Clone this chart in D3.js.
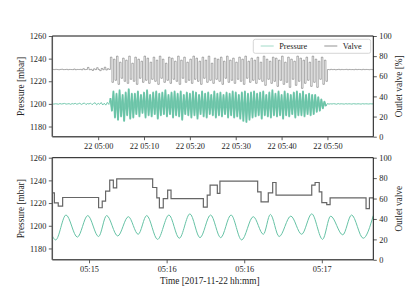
<!DOCTYPE html>
<html>
<head>
<meta charset="utf-8">
<script src="https://cdn.jsdelivr.net/npm/d3@7"></script>
<style>
  body { margin: 0; background: #fff; }
  svg { display: block; }
  text { font-family: "Liberation Serif", "Times New Roman", serif; fill: #222; }
</style>
</head>
<body>
<svg id="chart" width="415" height="297"></svg>
<script>
// ---- data ----
const day = "2017-11-22";
const stepSec = 20;

// overview: three sampled runs (20 s step)
const preStart = "04:50:00";
const runStart = "05:02:40";
const postStart = "05:50:00";

const valvePre = [
  66.8, 66.6, 66.9, 66.7, 66.5, 66.8, 67.0, 66.6, 66.7, 66.9,
  66.5, 66.8, 66.7, 66.6, 67.2, 66.5, 66.8, 66.7, 66.9, 66.4,
  67.5, 66.6, 66.8, 68.8, 66.5, 66.9, 65.8, 67.4, 66.6, 68.5,
  66.7, 65.6, 67.8, 66.5, 69.0, 66.2, 67.5, 66.8
];
const valveRun = [
  79, 54, 77, 56, 80, 52, 74, 58, 78, 55, 76, 53, 80, 57, 73, 55, 79, 52, 77, 58,
  75, 54, 80, 56, 78, 53, 74, 57, 79, 55, 76, 52, 80, 58, 77, 54, 73, 56, 79, 53,
  78, 57, 75, 55, 80, 52, 76, 58, 79, 54, 74, 56, 77, 53, 80, 57, 78, 55, 75, 52,
  79, 58, 76, 54, 80, 56, 73, 53, 78, 57, 77, 55, 79, 52, 75, 58, 80, 54, 76, 56,
  78, 53, 74, 57, 79, 55, 77, 52, 80, 58, 75, 54, 78, 56, 76, 53, 79, 57, 74, 55,
  80, 51, 77, 57, 75, 53, 79, 55, 78, 50, 76, 56, 80, 52, 74, 54, 79, 49, 77, 57,
  75, 51, 80, 55, 78, 48, 76, 53, 79, 56, 74, 50, 80, 54, 77, 49, 75, 57, 79, 52,
  76, 55
];
const valvePost = [
  66.7, 66.5, 66.9, 66.6, 66.8, 66.4, 66.7, 66.9, 66.5, 66.8,
  66.6, 66.7, 66.9, 66.5, 66.8, 66.6, 66.7, 66.5, 66.9, 66.6,
  66.8, 66.7, 66.5, 66.9, 66.6, 66.8, 66.7, 66.5, 66.8, 66.6, 67.2
];

const pressurePre = [
  1200.2, 1199.8, 1200.1, 1200.0, 1199.7, 1200.3, 1199.9, 1200.1, 1200.4, 1199.8,
  1200.0, 1200.2, 1199.6, 1200.3, 1199.9, 1200.5, 1199.7, 1200.1, 1200.6, 1199.5,
  1200.2, 1200.8, 1199.4, 1200.3, 1199.9, 1200.7, 1199.3, 1200.4, 1201.0, 1199.2,
  1200.5, 1199.6, 1201.2, 1199.0, 1200.6, 1198.9, 1201.3, 1199.5
];
const pressureRun = [
  1205, 1194, 1211, 1188, 1209, 1186, 1212, 1189, 1208, 1185, 1210, 1190, 1213, 1187, 1209, 1188,
  1209, 1191, 1211, 1189, 1208, 1192, 1210, 1188, 1212, 1190, 1208, 1189, 1210, 1191, 1211, 1187, 1209, 1190, 1210, 1191,
  1212, 1189, 1208, 1191, 1210, 1188, 1211, 1190, 1209, 1189, 1211, 1186, 1208, 1191, 1210, 1190, 1209, 1188, 1211, 1190,
  1210, 1187, 1208, 1191, 1211, 1189, 1209, 1188, 1210, 1191, 1208, 1190, 1211, 1188, 1209, 1190, 1210, 1189, 1208, 1191,
  1210, 1188, 1209, 1190, 1211, 1188, 1210, 1189, 1208, 1187, 1210, 1185, 1211, 1184, 1209, 1186, 1210, 1188, 1211, 1189,
  1209, 1190, 1210, 1187, 1211, 1190, 1208, 1189, 1210, 1188, 1212, 1190, 1209, 1189, 1211, 1190, 1208, 1187, 1211, 1190,
  1209, 1189, 1208, 1191, 1210, 1188, 1211, 1190, 1209, 1190, 1211, 1189, 1208, 1191, 1209, 1190,
  1208, 1191, 1208, 1193, 1206, 1194, 1204, 1196, 1202, 1198
];
const pressurePost = [
  1200.3, 1199.8, 1200.1, 1199.9, 1200.2, 1200.0, 1199.7, 1200.3, 1199.9, 1200.1,
  1200.0, 1199.8, 1200.2, 1199.9, 1200.1, 1200.0, 1199.8, 1200.2, 1200.0, 1199.9,
  1200.1, 1200.0, 1199.8, 1200.2, 1199.9, 1200.1, 1200.0, 1199.9, 1200.1, 1200.0, 1200.0
];

// zoom window, seconds after 05:15:00
const zoomPressureT = [15.8, 17.1, 21.1, 25.5, 29.5, 33.7, 36.8, 41.1, 45.2, 49.0, 52.3, 56.5, 60.9, 64.9, 69.0, 72.9,
  77.0, 80.9, 84.9, 89.0, 93.5, 97.4, 100.1, 103.5, 108.0, 112.2, 116.1, 120.3, 123.4, 128.1, 131.5, 136.0, 139.9];
const zoomPressure = [1191, 1187.5, 1209.5, 1190, 1209, 1190.5, 1209, 1191, 1208, 1192.5, 1209, 1188, 1209.5, 1189, 1210.5, 1189.5,
  1209.5, 1189.5, 1209.5, 1187.5, 1208, 1192.5, 1210, 1190.5, 1208.5, 1192.5, 1210.5, 1188, 1208.5, 1192, 1209.5, 1189, 1209];
const zoomValveT = [15.8, 16.6, 18.1, 19.8, 33.7, 35.1, 36.4, 38.0, 39.4, 40.7, 54.6, 56.2, 57.2, 58.7, 60.4, 61.7,
  74.2, 75.7, 76.8, 79.6, 80.6, 95.2, 96.5, 99.3, 101.0, 102.3, 116.1, 117.4, 119.0, 120.0, 121.9, 123.2, 137.1, 138.4, 139.9];
const zoomValve = [65.6, 55.7, 52.5, 61, 51, 57.4, 67.2, 78, 70.5, 79.3, 70.8, 60.7, 50.8, 60, 68.2, 60,
  51.5, 63.3, 73.1, 65, 77, 66.6, 56.7, 65.6, 75.7, 63.3, 73.1, 75.7, 66.6, 56, 54, 60.7, 50.2, 60.7, 60.7];

const overviewDomain = ["04:50:00", "06:00:00"];
const overviewTicks = ["05:00:00", "05:10:00", "05:20:00", "05:30:00", "05:40:00", "05:50:00"];
const zoomDomain = [15.8, 139.9];
const zoomTicks = [30, 60, 90, 120];
const pressureTicks = [1180, 1200, 1220, 1240, 1260];
const valveTicks = [0, 20, 40, 60, 80, 100];

// ---- helpers ----
const parse = d3.timeParse("%Y-%m-%d %H:%M:%S");
const at = s => parse(`${day} ${s}`);
const zoomBase = at("05:15:00");
const zoomAt = sec => new Date(zoomBase.getTime() + sec * 1000);

function run(start, values) {
  const t0 = at(start).getTime();
  return values.map((v, i) => ({ t: new Date(t0 + i * stepSec * 1000), v }));
}

const pressureActive = run(runStart, pressureRun);
const overviewPressure = run(preStart, pressurePre)
  .concat(pressureActive, run(postStart, pressurePost));
const overviewValve = run(preStart, valvePre)
  .concat(run(runStart, valveRun), run(postStart, valvePost));
const zoomP = zoomPressureT.map((s, i) => ({ t: zoomAt(s), v: zoomPressure[i] }));
const zoomV = zoomValveT.map((s, i) => ({ t: zoomAt(s), v: zoomValve[i] }));

// ---- layout ----
const svg = d3.select("#chart");
const x0 = 52.3, x1 = 373.3;
const green = "#66c2a5";
const tickFont = 8.3, labelFont = 9.3;

function styleAxis(g) {
  g.attr("font-family", null).attr("font-size", null);
  g.select(".domain").remove();
  g.selectAll(".tick line").attr("stroke", "#333").attr("stroke-width", 0.8);
  g.selectAll(".tick text").attr("font-size", tickFont).attr("fill", "#222");
}

function panel(id, top, bottom, xScale, xTicks, xFormat, pData, vData, pCurve, vCurve, opts) {
  const yP = d3.scaleLinear().domain(opts.pDomain).range([bottom, top]);
  const yV = d3.scaleLinear().domain([0, 100]).range([bottom, top]);
  const g = svg.append("g");

  g.append("clipPath").attr("id", id)
    .append("rect").attr("x", x0).attr("y", top).attr("width", x1 - x0).attr("height", bottom - top);

  const plot = g.append("g").attr("clip-path", `url(#${id})`);
  const pLine = d3.line().x(d => xScale(d.t)).y(d => yP(d.v)).curve(pCurve);

  plot.append("path")
    .datum(pData)
    .attr("fill", "none")
    .attr("stroke", green)
    .attr("stroke-width", opts.pWidth)
    .attr("stroke-opacity", opts.pOpacity)
    .attr("d", pLine);

  // the dense oscillating stretch is drawn heavier so it reads as a band
  if (opts.band) {
    plot.append("path")
      .datum(opts.band)
      .attr("fill", "none")
      .attr("stroke", green)
      .attr("stroke-width", 1.9)
      .attr("stroke-opacity", 0.85)
      .attr("stroke-linejoin", "round")
      .attr("d", pLine);
  }

  plot.append("path")
    .datum(vData)
    .attr("fill", "none")
    .attr("stroke", opts.vColor)
    .attr("stroke-width", opts.vWidth)
    .attr("stroke-opacity", opts.vOpacity)
    .attr("d", d3.line().x(d => xScale(d.t)).y(d => yV(d.v)).curve(vCurve));

  // axes
  g.append("g").attr("transform", `translate(${x0},0)`)
    .call(d3.axisLeft(yP).tickValues(pressureTicks).tickFormat(d3.format("d")).tickSize(3.5).tickPadding(2.5))
    .call(styleAxis);
  g.append("g").attr("transform", `translate(${x1},0)`)
    .call(d3.axisRight(yV).tickValues(valveTicks).tickFormat(d3.format("d")).tickSize(3.5).tickPadding(2.5))
    .call(styleAxis);
  g.append("g").attr("transform", `translate(0,${bottom})`)
    .call(d3.axisBottom(xScale).tickValues(xTicks).tickFormat(xFormat).tickSize(3.5).tickPadding(2.5))
    .call(styleAxis);

  // spines
  g.append("line").attr("x1", x0).attr("x2", x0).attr("y1", top).attr("y2", bottom)
    .attr("stroke", "#555").attr("stroke-width", 1.5);
  g.append("line").attr("x1", x0).attr("x2", x1).attr("y1", bottom).attr("y2", bottom)
    .attr("stroke", "#555").attr("stroke-width", 1.5);
  g.append("line").attr("x1", x0).attr("x2", x1).attr("y1", top).attr("y2", top)
    .attr("stroke", "#111").attr("stroke-width", 1);
  g.append("line").attr("x1", x1).attr("x2", x1).attr("y1", top).attr("y2", bottom)
    .attr("stroke", "#111").attr("stroke-width", 1);

  const cy = (top + bottom) / 2;
  g.append("text")
    .attr("transform", `translate(21,${cy}) rotate(-90)`)
    .attr("text-anchor", "middle").attr("dy", "0.35em")
    .attr("font-size", labelFont)
    .text("Pressure [mbar]");
  g.append("text")
    .attr("transform", `translate(399,${cy}) rotate(-90)`)
    .attr("text-anchor", "middle").attr("dy", "0.35em")
    .attr("font-size", labelFont)
    .text(opts.valveLabel);
  return g;
}

const xTop = d3.scaleTime().domain(overviewDomain.map(at)).range([x0, x1]);
const xBottom = d3.scaleTime().domain(zoomDomain.map(zoomAt)).range([x0, x1]);

const topPanel = panel("clipTop", 36, 136.7, xTop, overviewTicks.map(at), d3.timeFormat("%d %H:%M"),
  overviewPressure, overviewValve, d3.curveLinear, d3.curveStepAfter,
  { pDomain: [1171, 1260], pWidth: 1, pOpacity: 0.9, band: pressureActive,
    vColor: "#555", vWidth: 0.6, vOpacity: 0.8, valveLabel: "Outlet valve [%]" });

panel("clipBottom", 157.7, 259.8, xBottom, zoomTicks.map(zoomAt), d3.timeFormat("%H:%M"),
  zoomP, zoomV, d3.curveMonotoneX, d3.curveStepAfter,
  { pDomain: [1170, 1260], pWidth: 1, pOpacity: 1, vColor: "#666", vWidth: 1.2, vOpacity: 1,
    valveLabel: "Outlet valve" });

svg.append("text")
  .attr("x", (x0 + x1) / 2 - 3).attr("y", 281).attr("dy", "0.35em")
  .attr("text-anchor", "middle").attr("font-size", labelFont)
  .text("Time [2017-11-22 hh:mm]");

// legend
const legend = topPanel.append("g");
legend.append("rect")
  .attr("x", 253.3).attr("y", 39.3).attr("width", 117.4).attr("height", 14)
  .attr("rx", 2).attr("fill", "#fff").attr("fill-opacity", 0.85)
  .attr("stroke", "#ccc").attr("stroke-width", 0.8);
const entries = [
  { label: "Pressure", color: green, opacity: 0.6, x: 260.7 },
  { label: "Valve", color: "#3a3a3a", opacity: 0.55, x: 324.3 }
];
entries.forEach(e => {
  legend.append("line")
    .attr("x1", e.x).attr("x2", e.x + 13).attr("y1", 46).attr("y2", 46)
    .attr("stroke", e.color).attr("stroke-opacity", e.opacity).attr("stroke-width", 1);
  legend.append("text")
    .attr("x", e.x + 18.5).attr("y", 46).attr("dy", "0.33em")
    .attr("font-size", tickFont)
    .text(e.label);
});
</script>
</body>
</html>
